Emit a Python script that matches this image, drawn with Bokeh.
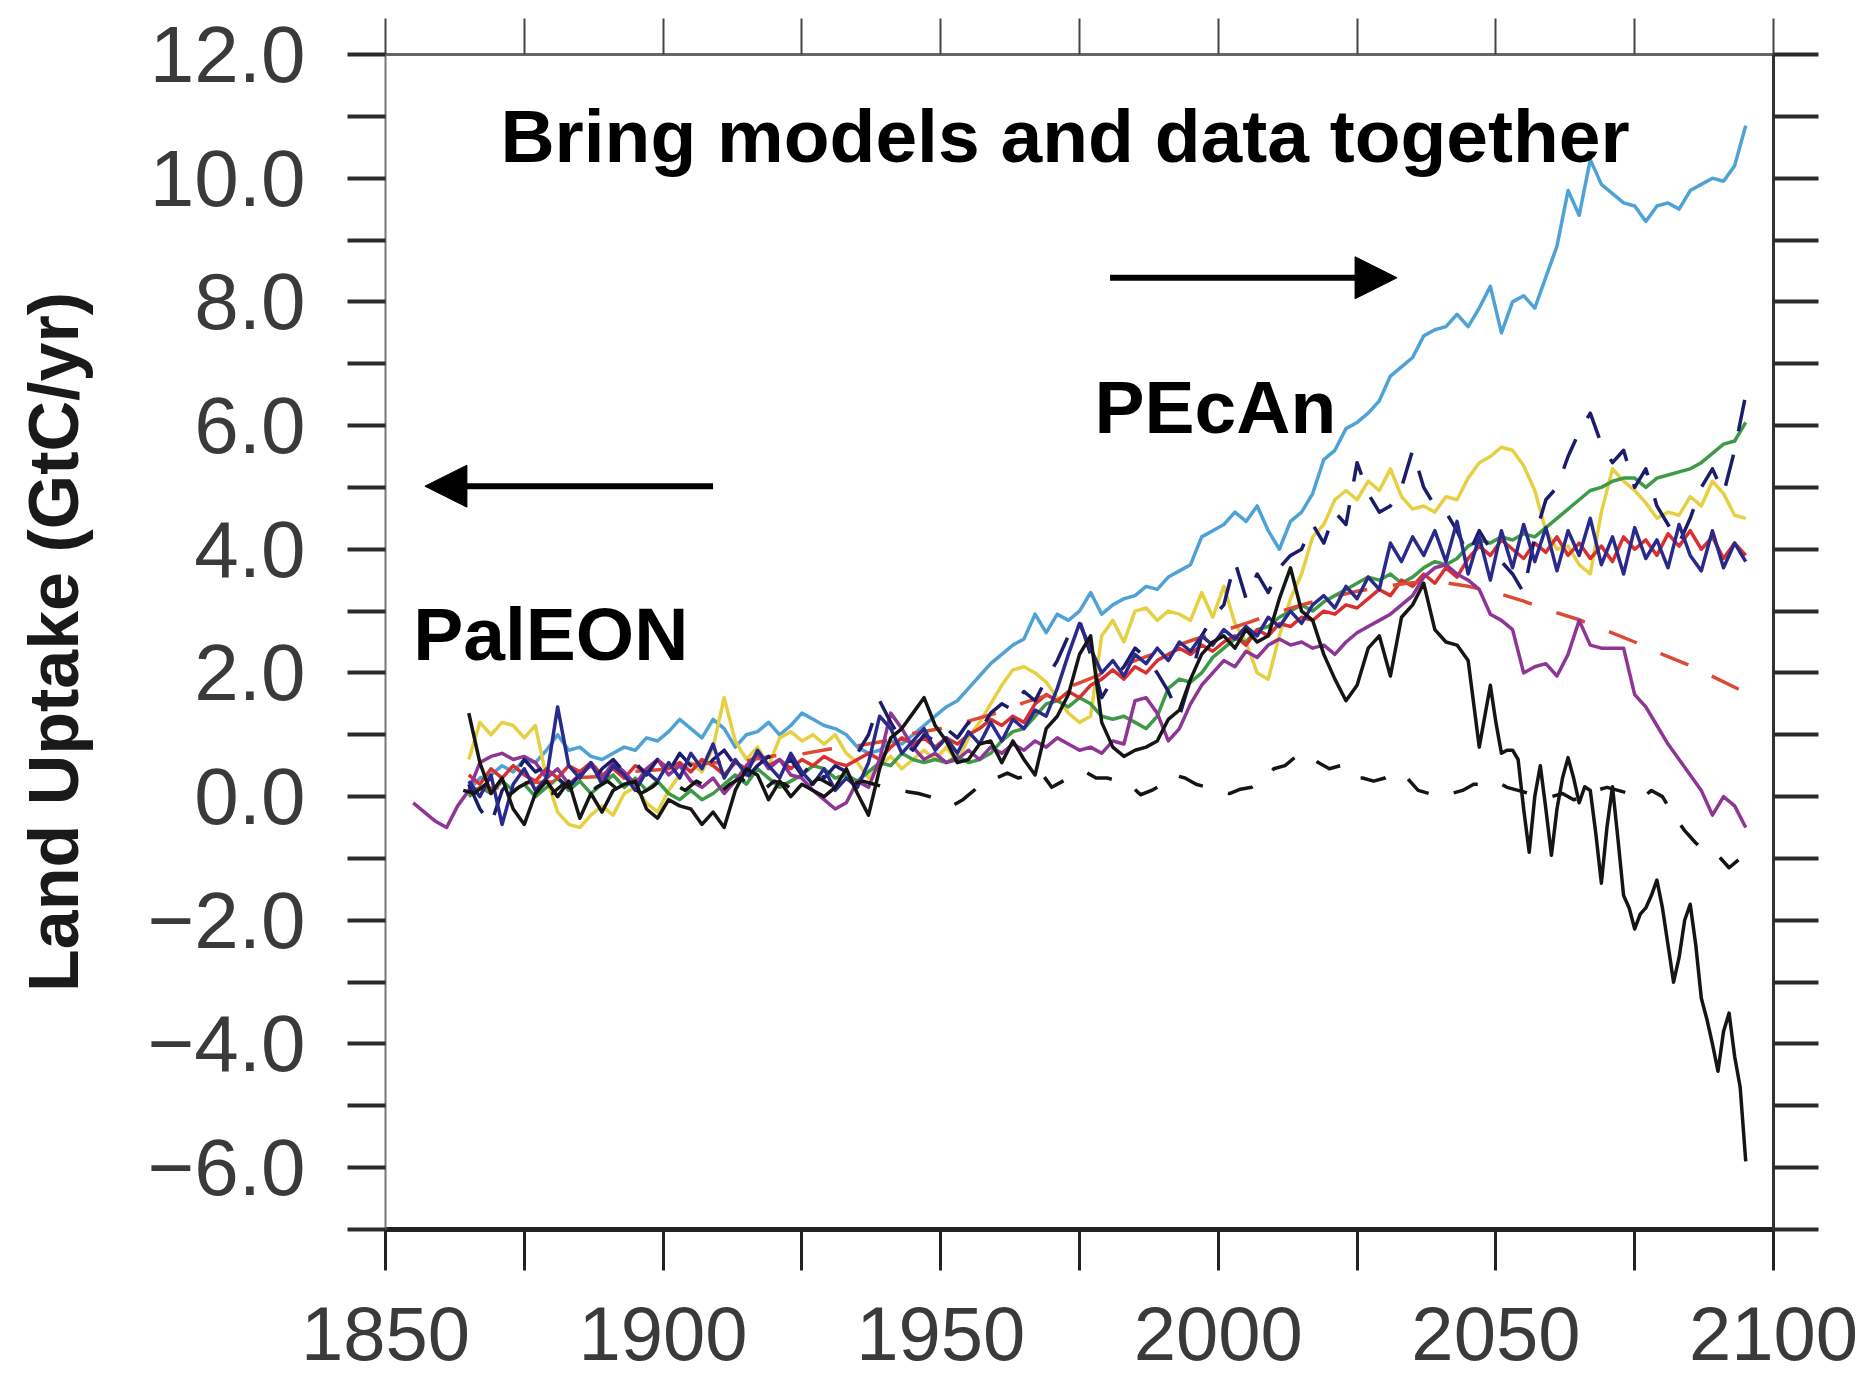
from bokeh.plotting import figure
from bokeh.models import (Range1d, LinearAxis, FixedTicker, Label, Arrow,
                          NormalHead, CustomJSTickFormatter)
from bokeh.embed import file_html
from bokeh.resources import INLINE

# ---------------- data ----------------
x_ticks = [1850, 1900, 1950, 2000, 2050, 2100]
x_minor = [1875, 1925, 1975, 2025, 2075]
y_ticks = [-6, -4, -2, 0, 2, 4, 6, 8, 10, 12]
y_minor = [-7, -5, -3, -1, 1, 3, 5, 7, 9, 11]

yr2 = list(range(1865, 2096, 2))

blue = [0.1, 0.3, 0.35, 0.5, 0.4, 0.6, 0.55, 0.75, 1.0, 0.75,
        0.8, 0.65, 0.6, 0.7, 0.8, 0.75, 0.95, 0.9, 1.05, 1.25,
        1.1, 0.95, 1.25, 1.1, 0.8, 1.0, 1.05, 1.2, 1.0, 1.15,
        1.35, 1.25, 1.15, 1.1, 1.0, 0.8, 0.7, 0.75, 0.9, 0.85,
        1.0, 1.15, 1.3, 1.45, 1.55, 1.75, 1.95, 2.15, 2.3, 2.45,
        2.55, 2.95, 2.65, 2.95, 2.85, 3.0, 3.3, 2.95, 3.1, 3.2,
        3.25, 3.4, 3.35, 3.55, 3.65, 3.75, 4.2, 4.3, 4.4, 4.6,
        4.45, 4.7, 4.3, 4.0, 4.45, 4.6, 4.9, 5.45, 5.6, 5.95,
        6.05, 6.2, 6.4, 6.8, 6.95, 7.1, 7.45, 7.55, 7.6, 7.8,
        7.6, 7.9, 8.25, 7.5, 8.0, 8.1, 7.9, 8.4, 8.9, 9.8,
        9.4, 10.3, 9.9, 9.75, 9.6, 9.55, 9.3, 9.55, 9.6, 9.5,
        9.8, 9.9, 10.0, 9.95, 10.2, 10.85]

yellow = [0.6, 1.2, 1.0, 1.2, 1.15, 0.95, 1.15, 0.3, -0.25, -0.45,
          -0.5, -0.3, -0.15, -0.3, 0.05, 0.15, -0.1, -0.25, 0.1, 0.35,
          0.55, 0.4, 0.8, 1.6, 0.9, 0.6, 0.8, 0.5, 0.95, 1.05,
          0.9, 1.0, 0.85, 1.0, 0.7, 0.55, 0.3, 0.5, 0.65, 0.45,
          0.6, 0.75, 0.6, 0.8, 0.55, 0.95, 1.2, 1.5, 1.8, 2.05,
          2.1, 2.0, 1.85, 1.6, 1.35, 1.2, 1.3, 2.6, 2.85, 2.5,
          3.0, 3.05, 2.85, 3.0, 2.95, 2.85, 3.3, 2.9, 3.4, 2.8,
          2.5, 2.0, 1.9, 2.6, 3.2, 3.6, 4.2, 4.4, 4.8, 4.95,
          4.8, 5.1, 4.95, 5.3, 4.85, 4.65, 4.7, 4.6, 4.85, 4.8,
          5.15, 5.4, 5.5, 5.65, 5.6, 5.35, 4.95, 4.3, 4.0, 4.05,
          3.75, 3.6, 4.6, 5.3, 5.1, 4.95, 4.75, 4.5, 4.6, 4.55,
          4.85, 4.7, 5.1, 4.9, 4.55, 4.5]

green = [0.0, 0.15, 0.05, 0.25, 0.1, 0.2, 0.0, 0.15, 0.3, 0.1,
         0.25, 0.05, 0.2, 0.35, 0.15, 0.3, 0.1, 0.25, 0.05, -0.05,
         0.1, -0.05, 0.05, 0.2, 0.35, 0.2, 0.45, 0.3, 0.15, 0.25,
         0.35, 0.5, 0.45, 0.3, 0.35, 0.25, 0.4, 0.55, 0.5, 0.7,
         0.6, 0.55, 0.6, 0.55, 0.65, 0.55, 0.6, 0.7, 0.9, 1.05,
         1.1, 1.3, 1.5, 1.55, 1.45, 1.6, 1.5, 1.3, 1.25, 1.3,
         1.2, 1.1, 1.3, 1.75, 1.9, 1.85, 2.0, 2.25, 2.4, 2.55,
         2.5, 2.7, 2.75, 2.9, 3.0, 3.1, 3.0, 3.15, 3.25, 3.35,
         3.45, 3.55, 3.5, 3.6, 3.45, 3.55, 3.7, 3.8, 3.75, 3.85,
         4.05, 4.15, 4.1, 4.2, 4.15, 4.25, 4.2, 4.35, 4.5, 4.65,
         4.8, 4.95, 5.0, 5.1, 5.15, 5.15, 5.0, 5.15, 5.2, 5.25,
         5.3, 5.4, 5.55, 5.7, 5.75, 6.05]

red = [0.35, 0.2, 0.45, 0.3, 0.5, 0.35, 0.25, 0.45, 0.3, 0.5,
       0.4, 0.55, 0.35, 0.45, 0.3, 0.5, 0.4, 0.6, 0.45, 0.55,
       0.4, 0.6, 0.5, 0.35, 0.55, 0.45, 0.65, 0.5, 0.6, 0.45,
       0.6, 0.5, 0.65, 0.55, 0.5, 0.6, 0.7, 0.6, 0.8, 0.95,
       0.85, 0.95, 0.8, 0.95, 0.85, 1.0, 1.1, 1.25, 1.15, 1.3,
       1.2, 1.5, 1.65, 1.55, 1.7, 1.6, 1.8, 1.9, 2.05, 1.9,
       2.1, 2.0, 2.2, 2.3, 2.4, 2.3, 2.45, 2.35, 2.5, 2.6,
       2.45, 2.7, 2.6, 2.8, 2.75, 2.9, 2.85, 3.0, 2.95, 3.1,
       3.05, 3.2, 3.35, 3.25, 3.5, 3.4, 3.6, 3.45, 3.7, 3.55,
       3.85, 4.05, 3.9, 4.15, 4.0, 3.85, 4.1, 3.95, 4.2, 3.9,
       4.1, 3.85, 4.05, 3.8, 4.2, 4.0, 4.15, 3.9, 4.25, 4.05,
       4.3, 4.0, 4.2, 3.85, 4.1, 3.9]

red_dash_yr = list(range(1865, 2096, 5))
red_dash = [0.12, 0.14, 0.22, 0.24, 0.31, 0.33, 0.41, 0.44, 0.52, 0.55,
            0.58, 0.66, 0.69, 0.77, 0.82, 0.9, 1.02, 1.1, 1.22, 1.35,
            1.52, 1.66, 1.84, 2.02, 2.2, 2.36, 2.52, 2.66, 2.8, 2.96,
            3.1, 3.22, 3.32, 3.4, 3.46, 3.47, 3.4, 3.3, 3.16, 3.0,
            2.86, 2.68, 2.5, 2.3, 2.12, 1.9, 1.68]

navy = [0.25, 0.0, 0.35, -0.45, 0.2, 0.45, 0.1, 0.3, 1.45, 0.5,
        0.3, 0.55, 0.2, 0.5, 0.35, 0.1, 0.4, 0.25, 0.55, 0.3,
        0.7, 0.45, 0.85, 0.3, 0.6, 0.35, 0.75, 0.5, 0.3, 0.7,
        0.4, 0.2, 0.45, 0.1, 0.3, 0.15, 0.55, 1.3, 1.1, 0.7,
        0.9, 1.1, 0.75, 0.95, 0.7, 1.05, 0.85, 1.2, 0.9, 1.25,
        1.1, 1.4, 1.3, 1.75, 2.3, 2.8, 2.4, 2.0, 2.2, 1.95,
        2.3, 2.15, 2.4, 2.2, 2.5, 2.35, 2.6, 2.45, 2.7, 2.55,
        2.75, 2.6, 2.9, 2.75, 3.0, 2.8, 3.1, 3.25, 3.05, 3.4,
        3.2, 3.55, 3.35, 4.1, 3.8, 4.2, 3.9, 4.3, 3.8, 4.45,
        3.6, 4.2, 3.5, 4.3, 3.7, 4.4, 3.8, 4.35, 3.65, 4.3,
        3.9, 4.5, 3.75, 4.2, 3.6, 4.35, 3.85, 4.15, 3.7, 4.4,
        3.9, 3.65, 4.3, 3.7, 4.1, 3.8]

navy_dash = [0.2, -0.2, -0.45, 0.1, 0.3, 0.6, 0.4, 0.5, 0.3, 0.15,
             0.35, 0.2, 0.45, 0.6, 0.4, 0.55, 0.35, 0.6, 0.4, 0.7,
             0.5, 0.4, 0.6, 0.75, 0.5, 0.3, 0.5, 0.65, 0.45, 0.6,
             0.35, 0.55, 0.3, 0.5, 0.4, 0.7, 1.0, 1.55, 1.2, 0.9,
             0.75, 1.0, 0.9, 1.1, 0.95, 1.2, 1.05, 1.35, 1.5, 1.4,
             1.7, 1.55, 1.9, 2.2, 2.6, 2.85, 2.3, 1.6, 1.9, 2.1,
             2.4, 2.25, 2.0, 1.7, 1.3, 1.9, 2.6, 2.9, 3.1, 3.8,
             3.2, 3.6, 3.3, 3.7, 3.9, 4.0, 4.4, 4.1, 4.6, 4.4,
             5.4, 4.9, 4.6, 4.7, 5.0, 5.6, 5.0, 4.7, 4.6, 4.3,
             3.9, 4.3, 4.0, 3.8, 3.6, 3.3, 4.2, 4.8, 5.0, 5.5,
             5.9, 6.2, 5.7, 5.4, 5.6, 5.0, 5.3, 4.7, 4.4, 4.1,
             4.5, 5.0, 5.3, 4.9, 5.6, 6.5]

purple_yr = list(range(1855, 2096, 2))
purple = [-0.1, -0.25, -0.4, -0.5, -0.15, 0.1, 0.55, 0.65, 0.7, 0.6,
          0.65, 0.55, 0.3, 0.45, 0.2, 0.35, 0.5, 0.3, 0.55, 0.4,
          0.2, 0.45, 0.6, 0.35, 0.5, 0.25, 0.15, 0.3, 0.05, 0.25,
          0.5, 0.7, 0.45, 0.6, 0.35, 0.3, 0.1, -0.05, -0.2, -0.1,
          0.25, 0.15, 0.6, 1.35, 1.1, 0.8, 0.6, 0.7, 0.55, 0.6,
          0.75, 0.6, 0.8, 0.7, 0.85, 0.75, 0.9, 0.8, 0.95, 0.85,
          0.75, 0.8, 0.7, 0.9, 0.85, 1.55, 1.6, 1.35, 0.9, 1.1,
          1.5, 1.8, 2.0, 2.2, 2.1, 2.35, 2.25, 2.45, 2.55, 2.45,
          2.5, 2.4, 2.45, 2.3, 2.5, 2.65, 2.75, 2.85, 2.95, 3.1,
          3.25, 3.55, 3.7, 3.75, 3.6, 3.5, 3.35, 2.95, 2.85, 2.7,
          2.0, 2.1, 2.15, 1.95, 2.3, 2.85, 2.45, 2.4, 2.4, 2.4,
          1.65, 1.45, 1.15, 0.85, 0.6, 0.35, 0.1, -0.3, 0.0, -0.15,
          -0.5]

black_yr = list(range(1865, 2045, 2)) + list(range(2045, 2096))
black = [1.35, 0.55, 0.05, 0.3, -0.2, -0.45, 0.05, 0.25, 0.0, 0.25,
         -0.35, 0.05, -0.25, 0.1, 0.2, 0.25, -0.2, -0.35, -0.05, -0.15,
         -0.2, -0.45, -0.25, -0.5, 0.1, 0.45, 0.35, -0.05, 0.25, 0.0,
         0.2, 0.1, 0.0, 0.15, 0.45, 0.05, -0.3, 0.45, 0.95, 1.1,
         1.35, 1.6, 1.15, 0.9, 0.55, 0.6, 0.85, 0.9, 0.55, 0.9,
         0.6, 0.35, 1.1, 1.3, 1.65, 2.3, 2.6, 1.2, 0.8, 0.65,
         0.75, 0.8, 0.9, 1.25, 1.4, 1.9, 2.3, 2.5, 2.6, 2.4,
         2.7, 2.5, 2.6, 3.2, 3.7, 3.0, 2.85, 2.3, 1.9, 1.55,
         1.8, 2.4, 2.6, 1.95, 2.9, 3.1, 3.45, 2.7, 2.5, 2.45,
         2.2, 1.5, 0.8, 1.3, 1.8, 1.2, 0.7, 0.75, 0.75, 0.6,
         -0.2, -0.9, 0.0, 0.5, -0.2, -0.95, -0.2, 0.3, 0.63, 0.3,
         -0.1, 0.16, 0.1, -0.6, -1.4, -0.5, 0.16, -0.7, -1.6, -1.8,
         -2.14, -1.9, -1.8, -1.6, -1.35, -1.8, -2.4, -3.0, -2.6, -2.0,
         -1.74, -2.4, -3.26, -3.6, -4.0, -4.44, -3.8, -3.5, -4.2, -4.7,
         -5.9]

black_dash_yr = list(range(1864, 2095, 2)) + [2095]
black_dash = [0.1, 0.05, 0.2, 0.1, 0.0, 0.15, 0.25, 0.1, 0.05, 0.2,
              0.1, 0.0, 0.15, 0.25, 0.1, 0.2, 0.05, 0.15, 0.3, 0.2,
              0.1, 0.25, 0.15, 0.05, 0.2, 0.3, 0.15, 0.1, 0.25, 0.2,
              0.05, 0.15, 0.3, 0.2, 0.1, 0.2, 0.25, 0.2,
              0.15, 0.12, 0.08, 0.05, 0.0, -0.05, -0.15, -0.05, 0.1, 0.25,
              0.3, 0.38, 0.3, 0.35, 0.4, 0.15, 0.25, 0.35, 0.4, 0.3,
              0.3, 0.25, 0.2, 0.03, 0.1, 0.2, 0.35, 0.3, 0.2, 0.15,
              0.1, 0.05, 0.12, 0.15, 0.25, 0.45, 0.5, 0.65, 0.7, 0.55,
              0.45, 0.5, 0.3, 0.3, 0.25, 0.3, 0.4, 0.3, 0.1, 0.05,
              0.0, 0.05, 0.1, 0.2, 0.2, 0.25, 0.15, 0.1, 0.05, 0.05,
              0.0, 0.05, -0.05, 0.0, 0.1, 0.15, 0.1, 0.05, -0.05, 0.1,
              0.0, -0.3, -0.55, -0.75, -0.9, -0.95, -1.15, -1.0, -0.95]

# annotations (data coordinates)
title_text = "Bring models and data together"
title_x, title_y = 1870.7, 10.69
pecan_x, pecan_y = 1977.7, 6.30
paleon_x, paleon_y = 1855.0, 2.63
left_arrow = (1909.0, 1857.1, 5.02)
right_arrow = (1980.5, 2032.2, 8.39)

# ---------------- figure ----------------
p = figure(width=1875, height=1374,
           x_range=Range1d(1850, 2100), y_range=Range1d(-7, 12),
           output_backend="svg", toolbar_location=None,
           x_axis_location=None, y_axis_location=None,
           min_border_left=385, min_border_right=102,
           min_border_top=54, min_border_bottom=145)
p.outline_line_color = None
p.background_fill_color = "white"
p.border_fill_color = "white"
p.xgrid.grid_line_color = None
p.ygrid.grid_line_color = None

FONT = "Liberation Sans"
empty = CustomJSTickFormatter(code="return ''")
yfmt = CustomJSTickFormatter(code="return (tick < 0 ? '\\u2212' + Math.abs(tick).toFixed(1) : tick.toFixed(1));")

xb = LinearAxis(ticker=FixedTicker(ticks=x_ticks, minor_ticks=x_minor))
xb.major_tick_out = 41
xb.minor_tick_out = 41
xb.major_tick_in = 0
xb.minor_tick_in = 0
xb.major_tick_line_width = 3
xb.minor_tick_line_width = 3
xb.major_tick_line_color = "#222222"
xb.minor_tick_line_color = "#222222"
xb.axis_line_width = 5
xb.axis_line_color = "#222222"
xb.major_label_text_font = FONT
xb.major_label_text_font_size = "76px"
xb.major_label_text_color = "#3a3a3a"
xb.major_label_standoff = 36
p.add_layout(xb, "below")

xt = LinearAxis(ticker=FixedTicker(ticks=x_ticks, minor_ticks=x_minor), formatter=empty)
xt.major_tick_out = 36
xt.minor_tick_out = 36
xt.major_tick_in = 0
xt.minor_tick_in = 0
xt.major_tick_line_width = 2
xt.minor_tick_line_width = 2
xt.major_tick_line_color = "#444444"
xt.minor_tick_line_color = "#444444"
xt.axis_line_width = 3
xt.axis_line_color = "#666666"
xt.major_label_standoff = 0
xt.major_label_text_font_size = "1px"
p.add_layout(xt, "above")

yl = LinearAxis(ticker=FixedTicker(ticks=y_ticks, minor_ticks=y_minor), formatter=yfmt)
yl.axis_label = "Land Uptake (GtC/yr)"
yl.axis_label_text_font = FONT
yl.axis_label_text_font_style = "bold"
yl.axis_label_text_font_size = "70px"
yl.axis_label_text_color = "#1a1a1a"
yl.axis_label_standoff = 52
yl.major_tick_out = 38
yl.minor_tick_out = 38
yl.major_tick_in = 0
yl.minor_tick_in = 0
yl.major_tick_line_width = 4
yl.minor_tick_line_width = 4
yl.major_tick_line_color = "#2a2a2a"
yl.minor_tick_line_color = "#2a2a2a"
yl.axis_line_width = 2
yl.axis_line_color = "#777777"
yl.major_label_text_font = FONT
yl.major_label_text_font_size = "80px"
yl.major_label_text_color = "#3a3a3a"
yl.major_label_standoff = 42
p.add_layout(yl, "left")

yr = LinearAxis(ticker=FixedTicker(ticks=y_ticks, minor_ticks=y_minor), formatter=empty)
yr.major_tick_out = 45
yr.minor_tick_out = 45
yr.major_tick_in = 0
yr.minor_tick_in = 0
yr.major_tick_line_width = 4
yr.minor_tick_line_width = 4
yr.major_tick_line_color = "#2a2a2a"
yr.minor_tick_line_color = "#2a2a2a"
yr.axis_line_width = 3
yr.axis_line_color = "#333333"
yr.major_label_standoff = 0
yr.major_label_text_font_size = "1px"
p.add_layout(yr, "right")


def add_line(xs, ys, color, dash="solid", width=3.5):
    n = min(len(xs), len(ys))
    p.line(xs[:n], ys[:n], line_color=color, line_width=width, line_dash=dash,
           line_join="round")


add_line(yr2, blue, "#4ea2d6")
add_line(yr2, yellow, "#e6d042")
add_line(yr2, green, "#3d9a46")
add_line(yr2, red, "#d8302e")
add_line(red_dash_yr, red_dash, "#dd4a33", dash="30 26")
add_line(purple_yr, purple, "#8e3596")
add_line(yr2, navy_dash, "#1c1c6c", dash="32 24")
add_line(yr2, navy, "#2a2a8c")
add_line(black_dash_yr, black_dash, "#151515", dash="26 26")
add_line(black_yr, black, "#151515")

# annotations
for txt, x, y in [(title_text, title_x, title_y), ("PEcAn", pecan_x, pecan_y),
                  ("PalEON", paleon_x, paleon_y)]:
    p.add_layout(Label(x=x, y=y, text=txt, text_font=FONT, text_font_style="bold",
                       text_font_size="75px", text_color="black",
                       text_align="left", text_baseline="alphabetic"))

for (xs, xe, yy) in [left_arrow, right_arrow]:
    p.add_layout(Arrow(end=NormalHead(size=42, fill_color="black", line_color="black",
                                      line_width=1),
                       x_start=xs, y_start=yy, x_end=xe, y_end=yy,
                       line_width=6, line_color="black"))

open("out.html", "w").write(file_html(p, INLINE))
